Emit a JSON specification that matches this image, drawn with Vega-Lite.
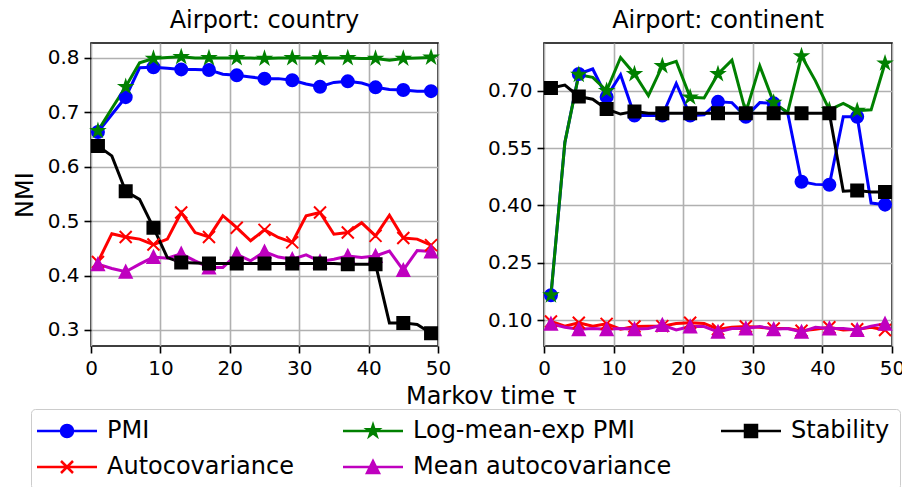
{
  "$schema": "https://vega.github.io/schema/vega-lite/v6.json",
  "autosize": {"type": "pad"},
  "padding": {"left": 12, "top": 8, "right": 2, "bottom": 0},
  "bounds": "flush",
  "spacing": 106,
  "config": {
    "font": "DejaVu Sans",
    "view": {"stroke": "black", "strokeWidth": 1.6},
    "axis": {
      "domain": false,
      "grid": true,
      "gridColor": "#b0b0b0",
      "gridWidth": 1.6,
      "tickColor": "black",
      "tickWidth": 1.6,
      "tickSize": 7,
      "labelPadding": 5,
      "labelFontSize": 20,
      "labelColor": "black",
      "labelFlush": false,
      "titleFontSize": 24,
      "titleFontWeight": "normal",
      "titleColor": "black"
    },
    "title": {"fontSize": 24, "fontWeight": "normal", "color": "black", "offset": 10},
    "legend": {
      "labelFontSize": 24,
      "labelColor": "black",
      "labelFont": "DejaVu Sans",
      "labelLimit": 500
    }
  },
  "datasets": {
    "nmi": [
      {"p": "country", "s": "PMI", "t": 1, "v": 0.664},
      {"p": "country", "s": "PMI", "t": 3, "v": 0.696},
      {"p": "country", "s": "PMI", "t": 5, "v": 0.728},
      {"p": "country", "s": "PMI", "t": 7, "v": 0.782},
      {"p": "country", "s": "PMI", "t": 9, "v": 0.783},
      {"p": "country", "s": "PMI", "t": 11, "v": 0.781},
      {"p": "country", "s": "PMI", "t": 13, "v": 0.779},
      {"p": "country", "s": "PMI", "t": 15, "v": 0.779},
      {"p": "country", "s": "PMI", "t": 17, "v": 0.778},
      {"p": "country", "s": "PMI", "t": 19, "v": 0.770},
      {"p": "country", "s": "PMI", "t": 21, "v": 0.768},
      {"p": "country", "s": "PMI", "t": 23, "v": 0.765},
      {"p": "country", "s": "PMI", "t": 25, "v": 0.762},
      {"p": "country", "s": "PMI", "t": 27, "v": 0.762},
      {"p": "country", "s": "PMI", "t": 29, "v": 0.759},
      {"p": "country", "s": "PMI", "t": 31, "v": 0.752},
      {"p": "country", "s": "PMI", "t": 33, "v": 0.747},
      {"p": "country", "s": "PMI", "t": 35, "v": 0.755},
      {"p": "country", "s": "PMI", "t": 37, "v": 0.757},
      {"p": "country", "s": "PMI", "t": 39, "v": 0.754},
      {"p": "country", "s": "PMI", "t": 41, "v": 0.746},
      {"p": "country", "s": "PMI", "t": 43, "v": 0.742},
      {"p": "country", "s": "PMI", "t": 45, "v": 0.741},
      {"p": "country", "s": "PMI", "t": 47, "v": 0.739},
      {"p": "country", "s": "PMI", "t": 49, "v": 0.739},

      {"p": "country", "s": "Autocovariance", "t": 1, "v": 0.425},
      {"p": "country", "s": "Autocovariance", "t": 3, "v": 0.477},
      {"p": "country", "s": "Autocovariance", "t": 5, "v": 0.471},
      {"p": "country", "s": "Autocovariance", "t": 7, "v": 0.467},
      {"p": "country", "s": "Autocovariance", "t": 9, "v": 0.457},
      {"p": "country", "s": "Autocovariance", "t": 11, "v": 0.467},
      {"p": "country", "s": "Autocovariance", "t": 13, "v": 0.516},
      {"p": "country", "s": "Autocovariance", "t": 15, "v": 0.479},
      {"p": "country", "s": "Autocovariance", "t": 17, "v": 0.471},
      {"p": "country", "s": "Autocovariance", "t": 19, "v": 0.510},
      {"p": "country", "s": "Autocovariance", "t": 21, "v": 0.488},
      {"p": "country", "s": "Autocovariance", "t": 23, "v": 0.464},
      {"p": "country", "s": "Autocovariance", "t": 25, "v": 0.484},
      {"p": "country", "s": "Autocovariance", "t": 27, "v": 0.470},
      {"p": "country", "s": "Autocovariance", "t": 29, "v": 0.461},
      {"p": "country", "s": "Autocovariance", "t": 31, "v": 0.510},
      {"p": "country", "s": "Autocovariance", "t": 33, "v": 0.516},
      {"p": "country", "s": "Autocovariance", "t": 35, "v": 0.476},
      {"p": "country", "s": "Autocovariance", "t": 37, "v": 0.479},
      {"p": "country", "s": "Autocovariance", "t": 39, "v": 0.497},
      {"p": "country", "s": "Autocovariance", "t": 41, "v": 0.473},
      {"p": "country", "s": "Autocovariance", "t": 43, "v": 0.511},
      {"p": "country", "s": "Autocovariance", "t": 45, "v": 0.469},
      {"p": "country", "s": "Autocovariance", "t": 47, "v": 0.467},
      {"p": "country", "s": "Autocovariance", "t": 49, "v": 0.456},

      {"p": "country", "s": "Log-mean-exp PMI", "t": 1, "v": 0.666},
      {"p": "country", "s": "Log-mean-exp PMI", "t": 3, "v": 0.707},
      {"p": "country", "s": "Log-mean-exp PMI", "t": 5, "v": 0.747},
      {"p": "country", "s": "Log-mean-exp PMI", "t": 7, "v": 0.791},
      {"p": "country", "s": "Log-mean-exp PMI", "t": 9, "v": 0.799},
      {"p": "country", "s": "Log-mean-exp PMI", "t": 11, "v": 0.801},
      {"p": "country", "s": "Log-mean-exp PMI", "t": 13, "v": 0.802},
      {"p": "country", "s": "Log-mean-exp PMI", "t": 15, "v": 0.800},
      {"p": "country", "s": "Log-mean-exp PMI", "t": 17, "v": 0.800},
      {"p": "country", "s": "Log-mean-exp PMI", "t": 19, "v": 0.800},
      {"p": "country", "s": "Log-mean-exp PMI", "t": 21, "v": 0.800},
      {"p": "country", "s": "Log-mean-exp PMI", "t": 23, "v": 0.800},
      {"p": "country", "s": "Log-mean-exp PMI", "t": 25, "v": 0.799},
      {"p": "country", "s": "Log-mean-exp PMI", "t": 27, "v": 0.800},
      {"p": "country", "s": "Log-mean-exp PMI", "t": 29, "v": 0.800},
      {"p": "country", "s": "Log-mean-exp PMI", "t": 31, "v": 0.800},
      {"p": "country", "s": "Log-mean-exp PMI", "t": 33, "v": 0.800},
      {"p": "country", "s": "Log-mean-exp PMI", "t": 35, "v": 0.800},
      {"p": "country", "s": "Log-mean-exp PMI", "t": 37, "v": 0.800},
      {"p": "country", "s": "Log-mean-exp PMI", "t": 39, "v": 0.799},
      {"p": "country", "s": "Log-mean-exp PMI", "t": 41, "v": 0.799},
      {"p": "country", "s": "Log-mean-exp PMI", "t": 43, "v": 0.796},
      {"p": "country", "s": "Log-mean-exp PMI", "t": 45, "v": 0.799},
      {"p": "country", "s": "Log-mean-exp PMI", "t": 47, "v": 0.800},
      {"p": "country", "s": "Log-mean-exp PMI", "t": 49, "v": 0.801},

      {"p": "country", "s": "Mean autocovariance", "t": 1, "v": 0.421},
      {"p": "country", "s": "Mean autocovariance", "t": 3, "v": 0.413},
      {"p": "country", "s": "Mean autocovariance", "t": 5, "v": 0.407},
      {"p": "country", "s": "Mean autocovariance", "t": 7, "v": 0.421},
      {"p": "country", "s": "Mean autocovariance", "t": 9, "v": 0.434},
      {"p": "country", "s": "Mean autocovariance", "t": 11, "v": 0.432},
      {"p": "country", "s": "Mean autocovariance", "t": 13, "v": 0.440},
      {"p": "country", "s": "Mean autocovariance", "t": 15, "v": 0.427},
      {"p": "country", "s": "Mean autocovariance", "t": 17, "v": 0.415},
      {"p": "country", "s": "Mean autocovariance", "t": 19, "v": 0.415},
      {"p": "country", "s": "Mean autocovariance", "t": 21, "v": 0.439},
      {"p": "country", "s": "Mean autocovariance", "t": 23, "v": 0.427},
      {"p": "country", "s": "Mean autocovariance", "t": 25, "v": 0.444},
      {"p": "country", "s": "Mean autocovariance", "t": 27, "v": 0.434},
      {"p": "country", "s": "Mean autocovariance", "t": 29, "v": 0.430},
      {"p": "country", "s": "Mean autocovariance", "t": 31, "v": 0.438},
      {"p": "country", "s": "Mean autocovariance", "t": 33, "v": 0.426},
      {"p": "country", "s": "Mean autocovariance", "t": 35, "v": 0.430},
      {"p": "country", "s": "Mean autocovariance", "t": 37, "v": 0.436},
      {"p": "country", "s": "Mean autocovariance", "t": 39, "v": 0.433},
      {"p": "country", "s": "Mean autocovariance", "t": 41, "v": 0.436},
      {"p": "country", "s": "Mean autocovariance", "t": 43, "v": 0.445},
      {"p": "country", "s": "Mean autocovariance", "t": 45, "v": 0.410},
      {"p": "country", "s": "Mean autocovariance", "t": 47, "v": 0.446},
      {"p": "country", "s": "Mean autocovariance", "t": 49, "v": 0.444},

      {"p": "country", "s": "Stability", "t": 1, "v": 0.638},
      {"p": "country", "s": "Stability", "t": 3, "v": 0.620},
      {"p": "country", "s": "Stability", "t": 5, "v": 0.555},
      {"p": "country", "s": "Stability", "t": 7, "v": 0.540},
      {"p": "country", "s": "Stability", "t": 9, "v": 0.488},
      {"p": "country", "s": "Stability", "t": 11, "v": 0.433},
      {"p": "country", "s": "Stability", "t": 13, "v": 0.424},
      {"p": "country", "s": "Stability", "t": 15, "v": 0.423},
      {"p": "country", "s": "Stability", "t": 17, "v": 0.422},
      {"p": "country", "s": "Stability", "t": 19, "v": 0.422},
      {"p": "country", "s": "Stability", "t": 21, "v": 0.422},
      {"p": "country", "s": "Stability", "t": 23, "v": 0.422},
      {"p": "country", "s": "Stability", "t": 25, "v": 0.422},
      {"p": "country", "s": "Stability", "t": 27, "v": 0.422},
      {"p": "country", "s": "Stability", "t": 29, "v": 0.422},
      {"p": "country", "s": "Stability", "t": 31, "v": 0.422},
      {"p": "country", "s": "Stability", "t": 33, "v": 0.422},
      {"p": "country", "s": "Stability", "t": 35, "v": 0.422},
      {"p": "country", "s": "Stability", "t": 37, "v": 0.421},
      {"p": "country", "s": "Stability", "t": 39, "v": 0.421},
      {"p": "country", "s": "Stability", "t": 41, "v": 0.421},
      {"p": "country", "s": "Stability", "t": 43, "v": 0.313},
      {"p": "country", "s": "Stability", "t": 45, "v": 0.313},
      {"p": "country", "s": "Stability", "t": 47, "v": 0.310},
      {"p": "country", "s": "Stability", "t": 49, "v": 0.294},

      {"p": "continent", "s": "PMI", "t": 1, "v": 0.165},
      {"p": "continent", "s": "PMI", "t": 3, "v": 0.565},
      {"p": "continent", "s": "PMI", "t": 5, "v": 0.744},
      {"p": "continent", "s": "PMI", "t": 7, "v": 0.757},
      {"p": "continent", "s": "PMI", "t": 9, "v": 0.684},
      {"p": "continent", "s": "PMI", "t": 11, "v": 0.742},
      {"p": "continent", "s": "PMI", "t": 13, "v": 0.635},
      {"p": "continent", "s": "PMI", "t": 15, "v": 0.635},
      {"p": "continent", "s": "PMI", "t": 17, "v": 0.635},
      {"p": "continent", "s": "PMI", "t": 19, "v": 0.719},
      {"p": "continent", "s": "PMI", "t": 21, "v": 0.635},
      {"p": "continent", "s": "PMI", "t": 23, "v": 0.637},
      {"p": "continent", "s": "PMI", "t": 25, "v": 0.671},
      {"p": "continent", "s": "PMI", "t": 27, "v": 0.669},
      {"p": "continent", "s": "PMI", "t": 29, "v": 0.632},
      {"p": "continent", "s": "PMI", "t": 31, "v": 0.669},
      {"p": "continent", "s": "PMI", "t": 33, "v": 0.667},
      {"p": "continent", "s": "PMI", "t": 35, "v": 0.643},
      {"p": "continent", "s": "PMI", "t": 37, "v": 0.462},
      {"p": "continent", "s": "PMI", "t": 39, "v": 0.455},
      {"p": "continent", "s": "PMI", "t": 41, "v": 0.454},
      {"p": "continent", "s": "PMI", "t": 43, "v": 0.632},
      {"p": "continent", "s": "PMI", "t": 45, "v": 0.632},
      {"p": "continent", "s": "PMI", "t": 47, "v": 0.406},
      {"p": "continent", "s": "PMI", "t": 49, "v": 0.402},

      {"p": "continent", "s": "Autocovariance", "t": 1, "v": 0.096},
      {"p": "continent", "s": "Autocovariance", "t": 3, "v": 0.084},
      {"p": "continent", "s": "Autocovariance", "t": 5, "v": 0.093},
      {"p": "continent", "s": "Autocovariance", "t": 7, "v": 0.084},
      {"p": "continent", "s": "Autocovariance", "t": 9, "v": 0.090},
      {"p": "continent", "s": "Autocovariance", "t": 11, "v": 0.076},
      {"p": "continent", "s": "Autocovariance", "t": 13, "v": 0.083},
      {"p": "continent", "s": "Autocovariance", "t": 15, "v": 0.084},
      {"p": "continent", "s": "Autocovariance", "t": 17, "v": 0.084},
      {"p": "continent", "s": "Autocovariance", "t": 19, "v": 0.091},
      {"p": "continent", "s": "Autocovariance", "t": 21, "v": 0.093},
      {"p": "continent", "s": "Autocovariance", "t": 23, "v": 0.091},
      {"p": "continent", "s": "Autocovariance", "t": 25, "v": 0.076},
      {"p": "continent", "s": "Autocovariance", "t": 27, "v": 0.081},
      {"p": "continent", "s": "Autocovariance", "t": 29, "v": 0.083},
      {"p": "continent", "s": "Autocovariance", "t": 31, "v": 0.081},
      {"p": "continent", "s": "Autocovariance", "t": 33, "v": 0.078},
      {"p": "continent", "s": "Autocovariance", "t": 35, "v": 0.078},
      {"p": "continent", "s": "Autocovariance", "t": 37, "v": 0.072},
      {"p": "continent", "s": "Autocovariance", "t": 39, "v": 0.076},
      {"p": "continent", "s": "Autocovariance", "t": 41, "v": 0.081},
      {"p": "continent", "s": "Autocovariance", "t": 43, "v": 0.074},
      {"p": "continent", "s": "Autocovariance", "t": 45, "v": 0.076},
      {"p": "continent", "s": "Autocovariance", "t": 47, "v": 0.081},
      {"p": "continent", "s": "Autocovariance", "t": 49, "v": 0.074},

      {"p": "continent", "s": "Log-mean-exp PMI", "t": 1, "v": 0.165},
      {"p": "continent", "s": "Log-mean-exp PMI", "t": 3, "v": 0.565},
      {"p": "continent", "s": "Log-mean-exp PMI", "t": 5, "v": 0.742},
      {"p": "continent", "s": "Log-mean-exp PMI", "t": 7, "v": 0.735},
      {"p": "continent", "s": "Log-mean-exp PMI", "t": 9, "v": 0.700},
      {"p": "continent", "s": "Log-mean-exp PMI", "t": 11, "v": 0.787},
      {"p": "continent", "s": "Log-mean-exp PMI", "t": 13, "v": 0.744},
      {"p": "continent", "s": "Log-mean-exp PMI", "t": 15, "v": 0.687},
      {"p": "continent", "s": "Log-mean-exp PMI", "t": 17, "v": 0.765},
      {"p": "continent", "s": "Log-mean-exp PMI", "t": 19, "v": 0.777},
      {"p": "continent", "s": "Log-mean-exp PMI", "t": 21, "v": 0.683},
      {"p": "continent", "s": "Log-mean-exp PMI", "t": 23, "v": 0.681},
      {"p": "continent", "s": "Log-mean-exp PMI", "t": 25, "v": 0.744},
      {"p": "continent", "s": "Log-mean-exp PMI", "t": 27, "v": 0.780},
      {"p": "continent", "s": "Log-mean-exp PMI", "t": 29, "v": 0.643},
      {"p": "continent", "s": "Log-mean-exp PMI", "t": 31, "v": 0.765},
      {"p": "continent", "s": "Log-mean-exp PMI", "t": 33, "v": 0.669},
      {"p": "continent", "s": "Log-mean-exp PMI", "t": 35, "v": 0.643},
      {"p": "continent", "s": "Log-mean-exp PMI", "t": 37, "v": 0.791},
      {"p": "continent", "s": "Log-mean-exp PMI", "t": 39, "v": 0.726},
      {"p": "continent", "s": "Log-mean-exp PMI", "t": 41, "v": 0.650},
      {"p": "continent", "s": "Log-mean-exp PMI", "t": 43, "v": 0.667},
      {"p": "continent", "s": "Log-mean-exp PMI", "t": 45, "v": 0.648},
      {"p": "continent", "s": "Log-mean-exp PMI", "t": 47, "v": 0.650},
      {"p": "continent", "s": "Log-mean-exp PMI", "t": 49, "v": 0.772},

      {"p": "continent", "s": "Mean autocovariance", "t": 1, "v": 0.090},
      {"p": "continent", "s": "Mean autocovariance", "t": 3, "v": 0.081},
      {"p": "continent", "s": "Mean autocovariance", "t": 5, "v": 0.076},
      {"p": "continent", "s": "Mean autocovariance", "t": 7, "v": 0.078},
      {"p": "continent", "s": "Mean autocovariance", "t": 9, "v": 0.076},
      {"p": "continent", "s": "Mean autocovariance", "t": 11, "v": 0.078},
      {"p": "continent", "s": "Mean autocovariance", "t": 13, "v": 0.076},
      {"p": "continent", "s": "Mean autocovariance", "t": 15, "v": 0.078},
      {"p": "continent", "s": "Mean autocovariance", "t": 17, "v": 0.087},
      {"p": "continent", "s": "Mean autocovariance", "t": 19, "v": 0.074},
      {"p": "continent", "s": "Mean autocovariance", "t": 21, "v": 0.083},
      {"p": "continent", "s": "Mean autocovariance", "t": 23, "v": 0.083},
      {"p": "continent", "s": "Mean autocovariance", "t": 25, "v": 0.069},
      {"p": "continent", "s": "Mean autocovariance", "t": 27, "v": 0.078},
      {"p": "continent", "s": "Mean autocovariance", "t": 29, "v": 0.078},
      {"p": "continent", "s": "Mean autocovariance", "t": 31, "v": 0.083},
      {"p": "continent", "s": "Mean autocovariance", "t": 33, "v": 0.076},
      {"p": "continent", "s": "Mean autocovariance", "t": 35, "v": 0.078},
      {"p": "continent", "s": "Mean autocovariance", "t": 37, "v": 0.069},
      {"p": "continent", "s": "Mean autocovariance", "t": 39, "v": 0.081},
      {"p": "continent", "s": "Mean autocovariance", "t": 41, "v": 0.078},
      {"p": "continent", "s": "Mean autocovariance", "t": 43, "v": 0.078},
      {"p": "continent", "s": "Mean autocovariance", "t": 45, "v": 0.074},
      {"p": "continent", "s": "Mean autocovariance", "t": 47, "v": 0.084},
      {"p": "continent", "s": "Mean autocovariance", "t": 49, "v": 0.090},

      {"p": "continent", "s": "Stability", "t": 1, "v": 0.707},
      {"p": "continent", "s": "Stability", "t": 3, "v": 0.715},
      {"p": "continent", "s": "Stability", "t": 5, "v": 0.685},
      {"p": "continent", "s": "Stability", "t": 7, "v": 0.678},
      {"p": "continent", "s": "Stability", "t": 9, "v": 0.652},
      {"p": "continent", "s": "Stability", "t": 11, "v": 0.639},
      {"p": "continent", "s": "Stability", "t": 13, "v": 0.646},
      {"p": "continent", "s": "Stability", "t": 15, "v": 0.641},
      {"p": "continent", "s": "Stability", "t": 17, "v": 0.641},
      {"p": "continent", "s": "Stability", "t": 19, "v": 0.641},
      {"p": "continent", "s": "Stability", "t": 21, "v": 0.641},
      {"p": "continent", "s": "Stability", "t": 23, "v": 0.641},
      {"p": "continent", "s": "Stability", "t": 25, "v": 0.641},
      {"p": "continent", "s": "Stability", "t": 27, "v": 0.641},
      {"p": "continent", "s": "Stability", "t": 29, "v": 0.641},
      {"p": "continent", "s": "Stability", "t": 31, "v": 0.641},
      {"p": "continent", "s": "Stability", "t": 33, "v": 0.641},
      {"p": "continent", "s": "Stability", "t": 35, "v": 0.641},
      {"p": "continent", "s": "Stability", "t": 37, "v": 0.641},
      {"p": "continent", "s": "Stability", "t": 39, "v": 0.641},
      {"p": "continent", "s": "Stability", "t": 41, "v": 0.641},
      {"p": "continent", "s": "Stability", "t": 43, "v": 0.437},
      {"p": "continent", "s": "Stability", "t": 45, "v": 0.439},
      {"p": "continent", "s": "Stability", "t": 47, "v": 0.435},
      {"p": "continent", "s": "Stability", "t": 49, "v": 0.435}
    ]
  },
  "data": {"name": "nmi"},
  "resolve": {"scale": {"color": "shared"}},
  "hconcat": [
    {
      "width": 347,
      "height": 303,
      "title": {"text": "Airport: country"},
      "transform": [{"filter": "datum.p === 'country'"}],
      "encoding": {
        "x": {
          "field": "t", "type": "quantitative",
          "scale": {"domain": [0, 50], "nice": false},
          "axis": {
            "values": [0, 10, 20, 30, 40, 50],
            "title": "Markov time τ",
            "titleX": 400, "titleY": 57,
            "titleAlign": "center", "titleBaseline": "alphabetic"
          }
        },
        "y": {
          "field": "v", "type": "quantitative",
          "scale": {"domain": [0.2705, 0.8275], "nice": false, "zero": false},
          "axis": {"values": [0.3, 0.4, 0.5, 0.6, 0.7, 0.8], "format": ".1f", "title": "NMI", "titlePadding": 10}
        }
      },
      "layer": [
        {
          "mark": {"type": "line", "strokeWidth": 3},
          "encoding": {
            "color": {
              "field": "s", "type": "nominal",
              "scale": {
                "domain": ["PMI", "Autocovariance", "Log-mean-exp PMI", "Mean autocovariance", "Stability"],
                "range": ["#0000ff", "#ff0000", "#008000", "#bf00bf", "#000000"]
              },
              "legend": {
                "orient": "none", "legendX": -60, "legendY": 366,
                "columns": 3, "title": null,
                "symbolSize": 144, "symbolOffset": 14, "labelOffset": 28,
                "columnPadding": 44, "rowPadding": 12, "padding": 10,
                "strokeColor": "#cccccc", "cornerRadius": 4, "fillColor": "white",
                "encode": {
                  "symbols": {
                    "update": {
                      "shape": {"signal": "datum.value === 'PMI' ? 'M-5,0H5M1,0A1,1 0 1 1 -1,0A1,1 0 1 1 1,0Z' : datum.value === 'Log-mean-exp PMI' ? 'M-5,0H5M0,-1L0.2245,-0.309L0.951,-0.309L0.3633,0.118L0.588,0.809L0,0.382L-0.588,0.809L-0.3633,0.118L-0.951,-0.309L-0.2245,-0.309Z' : datum.value === 'Stability' ? 'M-5,0H5M-1,-1H1V1H-1Z' : datum.value === 'Autocovariance' ? 'M-5,0H5M-1,-1L1,1M-1,1L1,-1' : 'M-5,0H5M0,-1L1,1L-1,1Z'"},
                      "fill": {"signal": "datum.value === 'PMI' ? '#0000ff' : datum.value === 'Log-mean-exp PMI' ? '#008000' : datum.value === 'Stability' ? '#000000' : datum.value === 'Autocovariance' ? '#ff0000' : '#bf00bf'"},
                      "stroke": {"signal": "datum.value === 'PMI' ? '#0000ff' : datum.value === 'Log-mean-exp PMI' ? '#008000' : datum.value === 'Stability' ? '#000000' : datum.value === 'Autocovariance' ? '#ff0000' : '#bf00bf'"},
                      "strokeWidth": {"value": 2.5},
                      "size": {"value": 144},
                      "opacity": {"value": 1}
                    }
                  }
                }
              }
            }
          }
        },
        {
          "transform": [{"filter": "datum.s === 'PMI' && datum.t % 4 === 1"}],
          "mark": {"type": "point", "shape": "circle", "filled": true, "fill": "#0000ff", "stroke": "#0000ff", "strokeWidth": 2, "size": 144, "opacity": 1}
        },
        {
          "transform": [{"filter": "datum.s === 'Autocovariance' && datum.t % 4 === 1"}],
          "mark": {"type": "point", "shape": "M-1,-1L1,1M-1,1L1,-1", "filled": false, "stroke": "#ff0000", "strokeWidth": 2, "size": 144, "opacity": 1}
        },
        {
          "transform": [{"filter": "datum.s === 'Log-mean-exp PMI' && datum.t % 4 === 1"}],
          "mark": {"type": "point", "shape": "M0,-1L0.2245,-0.309L0.951,-0.309L0.3633,0.118L0.588,0.809L0,0.382L-0.588,0.809L-0.3633,0.118L-0.951,-0.309L-0.2245,-0.309Z", "filled": true, "fill": "#008000", "stroke": "#008000", "strokeWidth": 2, "size": 144, "opacity": 1}
        },
        {
          "transform": [{"filter": "datum.s === 'Mean autocovariance' && datum.t % 4 === 1"}],
          "mark": {"type": "point", "shape": "M0,-1L1,1L-1,1Z", "filled": true, "fill": "#bf00bf", "stroke": "#bf00bf", "strokeWidth": 2, "size": 144, "opacity": 1}
        },
        {
          "transform": [{"filter": "datum.s === 'Stability' && datum.t % 4 === 1"}],
          "mark": {"type": "point", "shape": "square", "filled": true, "fill": "#000000", "stroke": "#000000", "strokeWidth": 2, "size": 144, "opacity": 1}
        }
      ]
    },
    {
      "width": 348,
      "height": 303,
      "title": {"text": "Airport: continent"},
      "transform": [{"filter": "datum.p === 'continent'"}],
      "encoding": {
        "x": {
          "field": "t", "type": "quantitative",
          "scale": {"domain": [0, 50], "nice": false},
          "axis": {"values": [0, 10, 20, 30, 40, 50], "title": null}
        },
        "y": {
          "field": "v", "type": "quantitative",
          "scale": {"domain": [0.032, 0.825], "nice": false, "zero": false},
          "axis": {"values": [0.1, 0.25, 0.4, 0.55, 0.7], "format": ".2f", "title": null}
        }
      },
      "layer": [
        {
          "mark": {"type": "line", "strokeWidth": 3},
          "encoding": {"color": {"field": "s", "type": "nominal"}}
        },
        {
          "transform": [{"filter": "datum.s === 'PMI' && datum.t % 4 === 1"}],
          "mark": {"type": "point", "shape": "circle", "filled": true, "fill": "#0000ff", "stroke": "#0000ff", "strokeWidth": 2, "size": 144, "opacity": 1}
        },
        {
          "transform": [{"filter": "datum.s === 'Autocovariance' && datum.t % 4 === 1"}],
          "mark": {"type": "point", "shape": "M-1,-1L1,1M-1,1L1,-1", "filled": false, "stroke": "#ff0000", "strokeWidth": 2, "size": 144, "opacity": 1}
        },
        {
          "transform": [{"filter": "datum.s === 'Log-mean-exp PMI' && datum.t % 4 === 1"}],
          "mark": {"type": "point", "shape": "M0,-1L0.2245,-0.309L0.951,-0.309L0.3633,0.118L0.588,0.809L0,0.382L-0.588,0.809L-0.3633,0.118L-0.951,-0.309L-0.2245,-0.309Z", "filled": true, "fill": "#008000", "stroke": "#008000", "strokeWidth": 2, "size": 144, "opacity": 1}
        },
        {
          "transform": [{"filter": "datum.s === 'Mean autocovariance' && datum.t % 4 === 1"}],
          "mark": {"type": "point", "shape": "M0,-1L1,1L-1,1Z", "filled": true, "fill": "#bf00bf", "stroke": "#bf00bf", "strokeWidth": 2, "size": 144, "opacity": 1}
        },
        {
          "transform": [{"filter": "datum.s === 'Stability' && datum.t % 4 === 1"}],
          "mark": {"type": "point", "shape": "square", "filled": true, "fill": "#000000", "stroke": "#000000", "strokeWidth": 2, "size": 144, "opacity": 1}
        }
      ]
    }
  ]
}
